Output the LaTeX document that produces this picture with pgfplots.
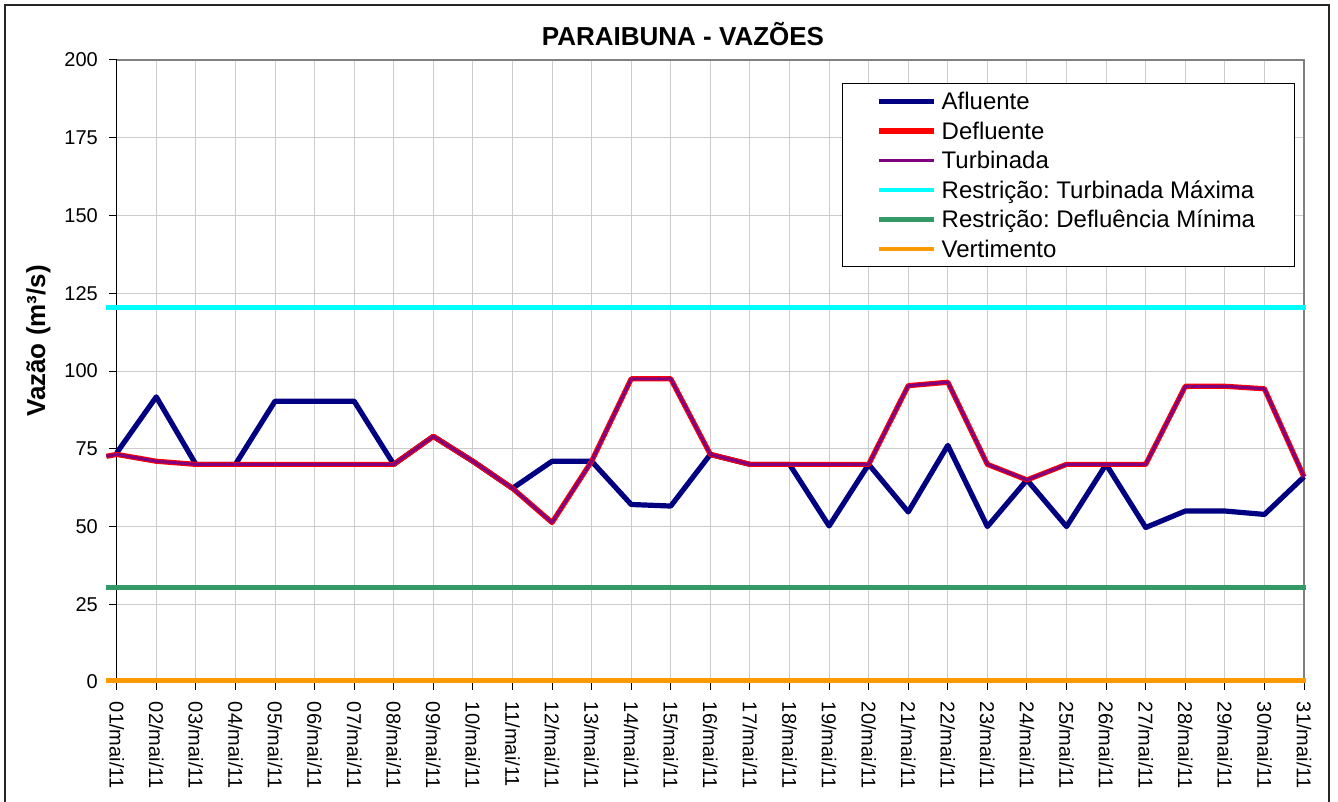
\documentclass[border=0pt]{standalone}
\usepackage{fontspec}
\setmainfont{Liberation Sans}
\usepackage{pgfplots}
\pgfplotsset{compat=1.18}
\definecolor{afl}{HTML}{000080}
\definecolor{defl}{HTML}{FF0000}
\definecolor{turb}{HTML}{800080}
\definecolor{tmax}{HTML}{00FFFF}
\definecolor{dmin}{HTML}{339966}
\definecolor{vert}{HTML}{FF9900}
\definecolor{gridc}{HTML}{CCCCCC}
\definecolor{plotb}{HTML}{808080}
\frenchspacing
\begin{document}
\frenchspacing
\begin{tikzpicture}
\path[use as bounding box] (0,0) rectangle (669pt,401pt);
\draw[black!85, line width=0.9pt] (2.5pt,-5pt) -- (2.5pt,398.5pt) -- (664.5pt,398.5pt) -- (664.5pt,-5pt);
\begin{axis}[
  at={(58.35pt,59.95pt)}, anchor=south west,
  scale only axis, width=593.65pt, height=311.05pt,
  xmin=1, xmax=31, ymin=0, ymax=200,
  xtick={1,...,31},
  xticklabels={01/mai/11,02/mai/11,03/mai/11,04/mai/11,05/mai/11,06/mai/11,07/mai/11,08/mai/11,09/mai/11,10/mai/11,11/mai/11,12/mai/11,13/mai/11,14/mai/11,15/mai/11,16/mai/11,17/mai/11,18/mai/11,19/mai/11,20/mai/11,21/mai/11,22/mai/11,23/mai/11,24/mai/11,25/mai/11,26/mai/11,27/mai/11,28/mai/11,29/mai/11,30/mai/11,31/mai/11},
  ytick={0,25,...,200},
  grid=major, major grid style={gridc, line width=0.5pt},
  axis x line*=bottom, axis y line*=left,
  axis line style={black, line width=0.6pt},
  tick align=outside, major tick length=3.75pt,
  tick style={black, line width=0.5pt},
  xticklabel style={rotate=-90, anchor=west, inner sep=0pt, font=\fontsize{10}{12}\selectfont},
  yticklabel style={anchor=east, inner sep=0pt, font=\fontsize{10}{12}\selectfont},
  xticklabel shift=6pt, yticklabel shift=5.5pt,
  /pgf/number format/assume math mode=true,
  clip=false,
  legend style={at={(0.9922,0.9626)}, anchor=north east, draw=black, line width=0.6pt, fill=white,
    font=\fontsize{12}{14}\selectfont, inner xsep=17pt, inner ysep=3.3pt, row sep=3.65pt,
    nodes={inner xsep=2.5pt, inner ysep=0pt, text height=9.6pt, text depth=1.5pt}},
  legend cell align=left,
  legend image code/.code={\path[draw=none,fill=none] (3pt,2.2pt) -- (30.5pt,2.2pt); \draw[#1] (3pt,0pt) -- (30.5pt,0pt);},
]
\draw[plotb, line width=0.6pt] (rel axis cs:0,1) -- (rel axis cs:1,1) -- (rel axis cs:1,0);
\addplot[afl, line width=2.6pt, line join=round] coordinates {
(1,73.7) (2,91.7) (3,70) (4,70) (5,90.3) (6,90.3) (7,90.3) (8,70) (9,79) (10,71)
(11,62.3) (12,71) (13,71) (14,57.1) (15,56.6) (16,73.2) (17,70) (18,70) (19,50.2) (20,70)
(21,54.7) (22,76.1) (23,50) (24,65) (25,50) (26,70) (27,49.7) (28,55) (29,55) (30,53.9) (31,66)};
\addplot[defl, line width=2.6pt, line join=round] coordinates {
(0.74,72.6) (1,73.2) (2,71) (3,70) (4,70) (5,70) (6,70) (7,70) (8,70) (9,79) (10,71)
(11,62.3) (12,51.3) (13,71) (14,97.5) (15,97.5) (16,73.2) (17,70) (18,70) (19,70) (20,70)
(21,95.3) (22,96.4) (23,70) (24,65) (25,70) (26,70) (27,70) (28,95.1) (29,95.1) (30,94.3) (31,66)};
\addplot[turb, line width=1.5pt, line join=round] coordinates {
(0.74,72.6) (1,73.2) (2,71) (3,70) (4,70) (5,70) (6,70) (7,70) (8,70) (9,79) (10,71)
(11,62.3) (12,51.3) (13,71) (14,97.5) (15,97.5) (16,73.2) (17,70) (18,70) (19,70) (20,70)
(21,95.3) (22,96.4) (23,70) (24,65) (25,70) (26,70) (27,70) (28,95.1) (29,95.1) (30,94.3) (31,66)};
\addplot[tmax, line width=2.4pt] coordinates {(0.74,120.5) (31.05,120.5)};
\addplot[dmin, line width=2.4pt] coordinates {(0.74,30.4) (31.05,30.4)};
\addplot[vert, line width=2.4pt] coordinates {(0.74,0.4) (31.05,0.4)};
\legend{Afluente,Defluente,Turbinada,Restrição: Turbinada Máxima,Restrição: Defluência Mínima,Vertimento}
\end{axis}
\node[anchor=base, font=\fontsize{13}{15}\selectfont\bfseries, inner sep=0pt] at (341.5pt,378pt) {PARAIBUNA - VAZÕES};
\node[anchor=base, rotate=90, font=\fontsize{13}{15}\selectfont\bfseries, inner sep=0pt] at (22.5pt,230.5pt) {Vazão (m³/s)};
\end{tikzpicture}
\end{document}
